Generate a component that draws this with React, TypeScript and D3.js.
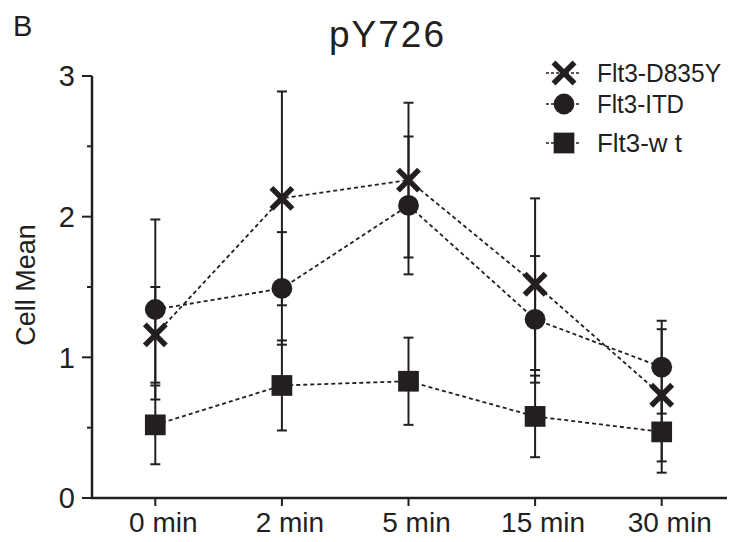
import React from 'react';
import * as d3 from 'd3';

const categories = ['0 min', '2 min', '5 min', '15 min', '30 min'];
const seriesNames = ['Flt3-D835Y', 'Flt3-ITD', 'Flt3-w t'];
const d835y = [1.16, 2.13, 2.26, 1.52, 0.73];
const d835yErr = [0.34, 0.76, 0.55, 0.61, 0.47];
const itd = [1.34, 1.49, 2.08, 1.27, 0.93];
const itdErr = [0.64, 0.4, 0.49, 0.45, 0.33];
const wt = [0.52, 0.8, 0.83, 0.58, 0.47];
const wtErr = [0.28, 0.32, 0.31, 0.29, 0.29];
const yTicks = [0, 1, 2, 3];
const yMinorTicks = [0.5, 1.5, 2.5];

const INK = '#231f20';
const FONT = '"Liberation Sans", Arial, sans-serif';

type Shape = 'x' | 'circle' | 'square';

const Marker: React.FC<{ shape: Shape; cx: number; cy: number }> = ({ shape, cx, cy }) => {
  if (shape === 'x') {
    const s = 10.5;
    return (
      <g stroke={INK} strokeWidth={5.5}>
        <line x1={cx - s} y1={cy - s} x2={cx + s} y2={cy + s} />
        <line x1={cx - s} y1={cy + s} x2={cx + s} y2={cy - s} />
      </g>
    );
  }
  const path = d3
    .symbol()
    .type(shape === 'circle' ? d3.symbolCircle : d3.symbolSquare)
    .size(shape === 'circle' ? 340 : 430)();
  return <path d={path || ''} transform={`translate(${cx},${cy})`} fill={INK} />;
};

const App: React.FC = () => {
  const width = 730;
  const height = 542;

  const x = d3.scalePoint<string>().domain(categories).range([92, 725]).padding(0.5);
  const y = d3.scaleLinear().domain([0, 3]).range([498, 76]);

  const series = [
    { name: seriesNames[0], values: d835y, errs: d835yErr, shape: 'x' as Shape, w: 124 },
    { name: seriesNames[1], values: itd, errs: itdErr, shape: 'circle' as Shape, w: 87 },
    { name: seriesNames[2], values: wt, errs: wtErr, shape: 'square' as Shape, w: 85 },
  ];

  const line = d3
    .line<number>()
    .x((_, i) => x(categories[i]) as number)
    .y((d) => y(d));

  const legendRows = [73, 104, 143];

  return (
    <div style={{ position: 'absolute', left: 0, top: 0 }}>
      <svg width={width} height={height} style={{ display: 'block', background: '#fff' }}>
        <text x={13} y={36} fontFamily={FONT} fontSize={29} fill={INK}>
          B
        </text>
        <text x={329} y={47} fontFamily={FONT} fontSize={37} letterSpacing={2} fill={INK}>
          pY726
        </text>

        {/* y axis */}
        <line x1={92} y1={y(0)} x2={92} y2={y(3)} stroke={INK} strokeWidth={2.5} />
        {yTicks.map((t) => (
          <g key={t}>
            <line x1={82} x2={92} y1={y(t)} y2={y(t)} stroke={INK} strokeWidth={2} />
            <text x={75} y={y(t)} dy="0.36em" textAnchor="end" fontFamily={FONT} fontSize={29} fill={INK}>
              {t}
            </text>
          </g>
        ))}
        {yMinorTicks.map((t) => (
          <line key={t} x1={87} x2={92} y1={y(t)} y2={y(t)} stroke={INK} strokeWidth={2} />
        ))}
        <text
          transform={`translate(35,${(y(0) + y(3)) / 2 - 2}) rotate(-90)`}
          textAnchor="middle"
          fontFamily={FONT}
          fontSize={27}
          fill={INK}
        >
          Cell Mean
        </text>

        {/* x axis */}
        <line x1={91} x2={727} y1={y(0)} y2={y(0)} stroke={INK} strokeWidth={2.5} />
        {categories.map((c) => (
          <g key={c}>
            <line x1={x(c)} x2={x(c)} y1={y(0)} y2={y(0) + 8} stroke={INK} strokeWidth={2} />
            <text x={(x(c) as number) + 8} y={532} textAnchor="middle" fontFamily={FONT} fontSize={28} fill={INK}>
              {c}
            </text>
          </g>
        ))}

        {/* error bars */}
        {series.map((s) =>
          s.values.map((v, i) => {
            const cx = x(categories[i]) as number;
            const hi = y(v + s.errs[i]);
            const lo = y(v - s.errs[i]);
            return (
              <g key={`${s.name}-e-${i}`} stroke={INK} strokeWidth={2}>
                <line x1={cx} x2={cx} y1={hi} y2={lo} />
                <line x1={cx - 5} x2={cx + 5} y1={hi} y2={hi} />
                <line x1={cx - 5} x2={cx + 5} y1={lo} y2={lo} />
              </g>
            );
          })
        )}

        {/* dashed connecting lines */}
        {series.map((s) => (
          <path
            key={`${s.name}-l`}
            d={line(s.values) || ''}
            fill="none"
            stroke={INK}
            strokeWidth={1.8}
            strokeDasharray="4,3"
          />
        ))}

        {/* markers */}
        {series.map((s) =>
          s.values.map((v, i) => (
            <Marker key={`${s.name}-m-${i}`} shape={s.shape} cx={x(categories[i]) as number} cy={y(v)} />
          ))
        )}

        {/* legend */}
        {series.map((s, i) => (
          <g key={`${s.name}-lg`}>
            <line
              x1={546}
              x2={581}
              y1={legendRows[i]}
              y2={legendRows[i]}
              stroke={INK}
              strokeWidth={1.5}
              strokeDasharray="3,2"
            />
            <Marker shape={s.shape} cx={564} cy={legendRows[i]} />
            <text
              x={597}
              y={legendRows[i]}
              dy="0.36em"
              fontFamily={FONT}
              fontSize={26}
              textLength={s.w}
              lengthAdjust="spacingAndGlyphs"
              fill={INK}
            >
              {s.name}
            </text>
          </g>
        ))}
      </svg>
    </div>
  );
};

export default App;
